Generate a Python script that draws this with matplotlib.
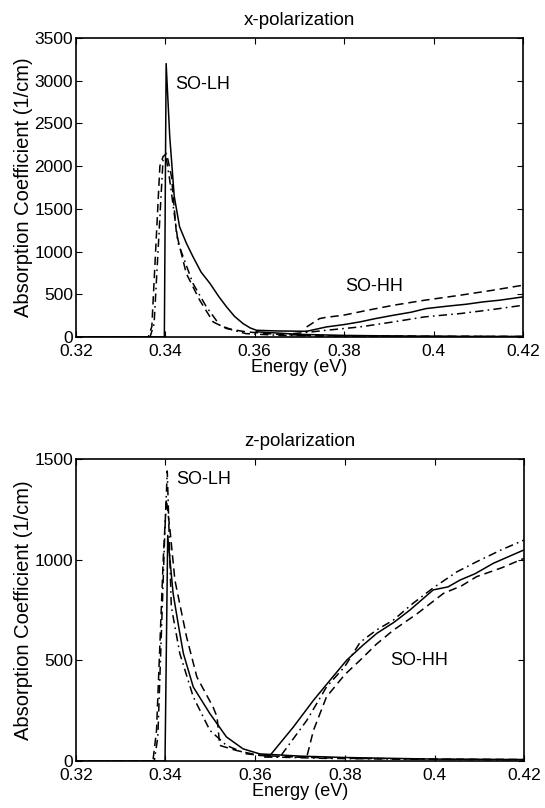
import numpy as np
import matplotlib.pyplot as plt

plt.rcParams['font.family'] = ['Liberation Sans', 'DejaVu Sans']
plt.rcParams['lines.scale_dashes'] = False

# x-polarization, SO-LH branch
x_lh_solid = [0.3200, 0.3395, 0.3398, 0.3402, 0.3410, 0.3420, 0.3432, 0.3447, 0.3462, 0.3480,
              0.3500, 0.3520, 0.3537, 0.3555, 0.3574, 0.3590, 0.3604, 0.3650, 0.3716]
y_lh_solid = [0, 0, 0, 3200, 2350, 1650, 1290, 1100, 939, 760,
              626, 470, 352, 240, 156, 105, 78, 70, 66]
x_lh_dash = [0.3200, 0.3362, 0.3370, 0.3388, 0.3395, 0.3403, 0.3414, 0.3425, 0.3447, 0.3477,
             0.3507, 0.3537, 0.3580, 0.3650, 0.3750, 0.4000, 0.4200]
y_lh_dash = [0, 0, 120, 2000, 2110, 2150, 1877, 1212, 743, 430,
             176, 98, 60, 30, 15, 8, 5]
x_lh_dd = [0.3200, 0.3366, 0.3375, 0.3395, 0.3402, 0.3410, 0.3429, 0.3462, 0.3492, 0.3522,
           0.3552, 0.3580, 0.3650, 0.3750, 0.4000, 0.4200]
y_lh_dd = [0, 0, 150, 2070, 2100, 1838, 1095, 626, 352, 137,
           78, 39, 20, 10, 5, 5]
x_lh_tail = [0.3604, 0.3700, 0.3800, 0.3900, 0.4000, 0.4100, 0.4200]
y_lh_tail = [60, 30, 18, 12, 8, 6, 5]

# x-polarization, SO-HH branch
x_hh_solid = [0.3716, 0.3760, 0.3800, 0.3835, 0.3870, 0.3910, 0.3950, 0.3983, 0.4030, 0.4073, 0.4110, 0.4147, 0.4200]
y_hh_solid = [66, 117, 145, 176, 215, 254, 290, 332, 360, 383, 410, 430, 469]
x_hh_dash = [0.3716, 0.3745, 0.3760, 0.3798, 0.3850, 0.3910, 0.3980, 0.4060, 0.4130, 0.4200]
y_hh_dash = [117, 215, 230, 254, 310, 371, 430, 489, 545, 606]
x_hh_dd = [0.3686, 0.3720, 0.3760, 0.3835, 0.3910, 0.3980, 0.4060, 0.4130, 0.4200]
y_hh_dd = [39, 55, 78, 117, 176, 235, 274, 320, 371]

# z-polarization, SO-LH branch
zx_lh_solid = [0.3200, 0.3396, 0.3399, 0.3405, 0.3417, 0.3430, 0.3440, 0.3462, 0.3499, 0.3536,
               0.3573, 0.3610, 0.3700, 0.3800, 0.3900, 0.4000, 0.4200]
zy_lh_solid = [0, 0, 0, 1120, 833, 660, 534, 368, 236, 120,
               61, 36, 25, 18, 14, 10, 8]
zx_lh_dash = [0.3200, 0.3372, 0.3380, 0.3395, 0.3402, 0.3410, 0.3421, 0.3447, 0.3470, 0.3506,
              0.3515, 0.3521, 0.3558, 0.3610, 0.3700, 0.3800, 0.4000, 0.4200]
zy_lh_dash = [0, 0, 150, 1000, 1300, 1150, 899, 617, 418, 269,
              220, 78, 53, 28, 20, 14, 10, 8]
zx_lh_dd = [0.3200, 0.3375, 0.3383, 0.3398, 0.3404, 0.3413, 0.3432, 0.3462, 0.3499, 0.3536,
            0.3581, 0.3650, 0.3750, 0.3900, 0.4200]
zy_lh_dd = [0, 0, 120, 1100, 1440, 767, 534, 319, 153, 78,
            36, 20, 14, 10, 6]

# z-polarization, SO-HH branch
zx_hh_solid = [0.3610, 0.3633, 0.3685, 0.3730, 0.3770, 0.3804, 0.3840, 0.3871, 0.3910, 0.3945,
               0.3997, 0.4030, 0.4057, 0.4090, 0.4131, 0.4170, 0.4200]
zy_hh_solid = [30, 28, 169, 302, 410, 501, 575, 634, 690, 750,
               850, 865, 899, 930, 982, 1020, 1049]
zx_hh_dash = [0.3690, 0.3715, 0.3730, 0.3759, 0.3800, 0.3834, 0.3870, 0.3908, 0.3960, 0.4020,
              0.4060, 0.4094, 0.4150, 0.4200]
zy_hh_dash = [20, 20, 153, 319, 430, 501, 580, 650, 730, 833,
              870, 916, 960, 1007]
zx_hh_dd = [0.3620, 0.3655, 0.3715, 0.3759, 0.3800, 0.3834, 0.3870, 0.3908, 0.3950, 0.3997,
            0.4050, 0.4094, 0.4150, 0.4200]
zy_hh_dd = [20, 20, 202, 368, 470, 590, 650, 700, 780, 860,
            940, 990, 1050, 1098]

xticks = [0.32, 0.34, 0.36, 0.38, 0.4, 0.42]
xtick_labels = ['0.32', '0.34', '0.36', '0.38', '0.4', '0.42']

DASH = (6, 3.5)
DASHDOT = (6, 3, 1.2, 3)


def style_axes(ax, ymax, ystep, title):
    ax.set_xlim(0.32, 0.42)
    ax.set_ylim(0, ymax)
    ax.set_xticks(xticks)
    ax.set_xticklabels(xtick_labels)
    ax.set_yticks(np.arange(0, ymax + 1, ystep))
    ax.tick_params(direction='in', top=True, right=True, length=4, labelsize=12.5)
    ax.tick_params(axis='x', pad=5)
    ax.tick_params(axis='y', pad=2)
    ax.set_xlabel('Energy (eV)', fontsize=13, labelpad=0)
    ax.set_ylabel('Absorption Coefficient (1/cm)', fontsize=14.5, labelpad=1)
    ax.set_title(title, fontsize=13.5, pad=9)
    for s in ax.spines.values():
        s.set_linewidth(1.2)


def draw(ax, x, y, kind):
    if kind == 'solid':
        ax.plot(x, y, color='k', lw=1.1, ls='-')
    elif kind == 'dash':
        ax.plot(x, y, color='k', lw=1.1, ls='--', dashes=DASH)
    else:
        ax.plot(x, y, color='k', lw=1.1, ls='-.', dashes=DASHDOT)


fig = plt.figure(figsize=(5.45, 8.08), dpi=100)
ax1 = fig.add_axes([0.139, 0.583, 0.821, 0.370])
ax2 = fig.add_axes([0.139, 0.058, 0.823, 0.374])

draw(ax1, x_lh_solid, y_lh_solid, 'solid')
draw(ax1, x_lh_tail, y_lh_tail, 'solid')
draw(ax1, x_lh_dash, y_lh_dash, 'dash')
draw(ax1, x_lh_dd, y_lh_dd, 'dashdot')
draw(ax1, x_hh_solid, y_hh_solid, 'solid')
draw(ax1, x_hh_dash, y_hh_dash, 'dash')
draw(ax1, x_hh_dd, y_hh_dd, 'dashdot')
ax1.text(0.3422, 2950, 'SO-LH', fontsize=13, va='center')
ax1.text(0.3802, 585, 'SO-HH', fontsize=13, va='center')
style_axes(ax1, 3500, 500, 'x-polarization')

draw(ax2, zx_lh_solid, zy_lh_solid, 'solid')
draw(ax2, zx_lh_dash, zy_lh_dash, 'dash')
draw(ax2, zx_lh_dd, zy_lh_dd, 'dashdot')
draw(ax2, zx_hh_solid, zy_hh_solid, 'solid')
draw(ax2, zx_hh_dash, zy_hh_dash, 'dash')
draw(ax2, zx_hh_dd, zy_hh_dd, 'dashdot')
ax2.text(0.3425, 1400, 'SO-LH', fontsize=13, va='center')
ax2.text(0.3900, 500, 'SO-HH', fontsize=13, va='center')
style_axes(ax2, 1500, 500, 'z-polarization')

fig.savefig('out.png', dpi=100)
